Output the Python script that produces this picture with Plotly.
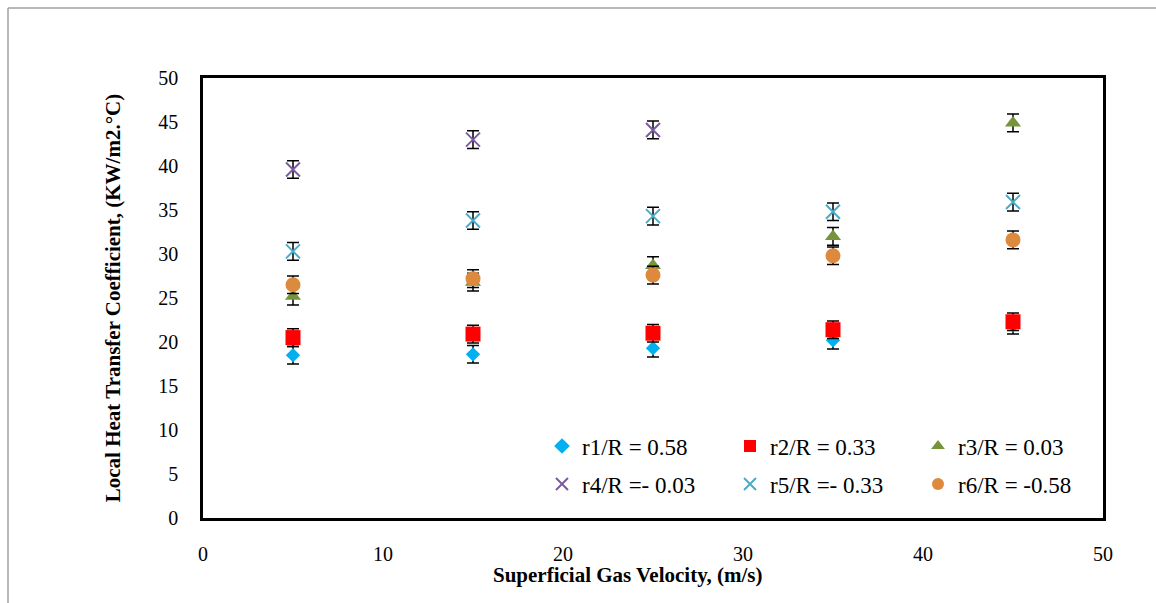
import plotly.graph_objects as go

velocity = [5, 15, 25, 35, 45]
r1 = [18.5, 18.6, 19.3, 20.2, 21.9]
r2 = [20.5, 20.9, 21.0, 21.4, 22.3]
r3 = [25.2, 26.8, 28.7, 32.0, 44.9]
r4_x = [5, 15, 25]
r4 = [39.6, 43.0, 44.1]
r5 = [30.3, 33.8, 34.3, 34.8, 35.9]
r6 = [26.5, 27.2, 27.6, 29.8, 31.6]
err = 1.0

names = ["r1/R = 0.58", "r2/R = 0.33", "r3/R = 0.03",
         "r4/R =- 0.03", "r5/R =- 0.33", "r6/R = -0.58"]

FONT = "Liberation Serif"

fig = go.Figure()

def add(x, y, name, symbol, color, size, legend, line_w=0):
    fig.add_trace(go.Scatter(
        x=x, y=y, name=name, mode="markers", legend=legend,
        marker=dict(symbol=symbol, color=color, size=size,
                    line=dict(width=line_w, color=color)),
        error_y=dict(type="constant", value=err, color="black",
                     thickness=1.5, width=6),
    ))

add(velocity, r1, names[0], "diamond", "#00b0f0", 11, "legend")
add(velocity, r2, names[1], "square", "#ff0000", 15, "legend")
add(velocity, r3, names[2], "triangle-up", "#77933c", 14, "legend")
add(r4_x, r4, names[3], "x-thin-open", "#7a5c9e", 14, "legend2", 2)
add(velocity, r5, names[4], "x-thin-open", "#4bacc6", 14, "legend2", 2)
add(velocity, r6, names[5], "circle", "#dd8a3e", 15, "legend2")

# first r4 point appears drawn in blue in the original
fig.data[3].marker.line.color = ["#4a86d4", "#7a5c9e", "#7a5c9e"]

L, R, T, B = 203, 53, 78, 85
W, H = 1156, 603
pw, ph = W - L - R, H - T - B

def leg(ypix):
    return dict(orientation="h", x=(542 - L) / pw, y=(H - B - ypix) / ph,
                xanchor="left", yanchor="middle",
                entrywidth=143, entrywidthmode="pixels",
                font=dict(family=FONT, size=23, color="black"),
                bgcolor="rgba(0,0,0,0)", itemsizing="constant")

fig.update_layout(
    width=W, height=H,
    margin=dict(l=L, r=R, t=T, b=B),
    paper_bgcolor="white", plot_bgcolor="white",
    font=dict(family=FONT, size=20, color="black"),
    showlegend=True,
    legend=leg(446),
    legend2=leg(484),
    xaxis=dict(range=[0, 50], dtick=10, showgrid=False, zeroline=False,
               showline=True, linecolor="black", linewidth=2.5, mirror=True,
               ticks="", ticklabelstandoff=16,
               tickfont=dict(family=FONT, size=20)),
    yaxis=dict(range=[0, 50], dtick=5, showgrid=False, zeroline=False,
               showline=True, linecolor="black", linewidth=2.5, mirror=True,
               ticks="", ticklabelstandoff=18,
               tickfont=dict(family=FONT, size=20),
               title=dict(text="<b>Local Heat Transfer Coefficient, (KW/m2.°C)</b>",
                          font=dict(family=FONT, size=21), standoff=32)),
)

fig.add_annotation(text="<b>Superficial Gas Velocity, (m/s)</b>",
                   xref="paper", yref="paper",
                   x=(628 - L) / pw, y=(H - B - 575) / ph,
                   xanchor="center", yanchor="middle", showarrow=False,
                   font=dict(family=FONT, size=21, color="black"))

# outer chart-area frame (top and left edges visible)
x0 = (8 - L) / pw
y0 = (H - B - 8) / ph
fig.add_shape(type="line", xref="paper", yref="paper", x0=x0, x1=1.2, y0=y0, y1=y0,
              line=dict(color="#a0a0a0", width=1.5))
fig.add_shape(type="line", xref="paper", yref="paper", x0=x0, x1=x0, y0=y0, y1=-0.3,
              line=dict(color="#a0a0a0", width=1.5))

fig.write_html("out.html")
